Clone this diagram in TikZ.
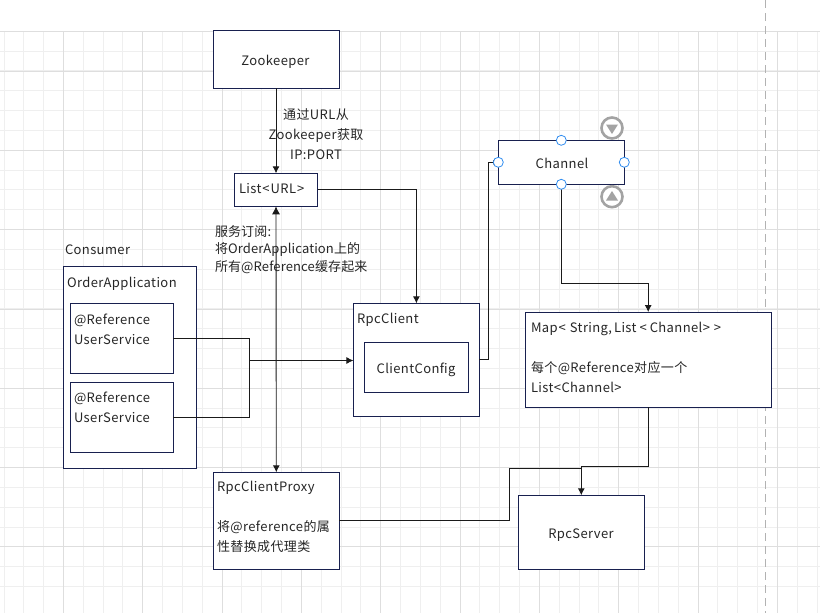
\documentclass[tikz,border=0pt]{standalone}
\usepackage{fontspec}
\setmainfont{Noto Sans CJK SC}[LetterSpace=3]
\usetikzlibrary{arrows.meta}
\definecolor{navy}{HTML}{18204F}
\definecolor{wire}{HTML}{1A1A1A}
\definecolor{ink}{HTML}{262626}
\definecolor{gridminor}{HTML}{EFEFEF}
\definecolor{gridmajor}{HTML}{DEDEDE}
\definecolor{handle}{HTML}{2F8CF0}
\definecolor{knob}{HTML}{A3A3A3}
\tikzset{
  box/.style={draw=navy,fill=white,line width=0.9pt,minimum width=#1,inner sep=0pt,outer sep=0pt},
  lbl/.style={inner sep=0pt,outer sep=0pt,text=ink,align=left,font=\fontsize{13}{20}\selectfont},
  tight/.style={lbl,font=\fontsize{13}{17.5}\selectfont\addfontfeature{LetterSpace=1}},
  conn/.style={draw=wire,line width=0.9pt,-{Latex[length=7pt,width=7pt]}},
  plain/.style={draw=wire,line width=0.9pt},
  grip/.style={circle,draw=handle,fill=white,line width=0.8pt,minimum size=10pt,inner sep=0pt},
  knobc/.style={circle,draw=knob,fill=white,line width=2.6pt,minimum size=21pt,inner sep=0pt},
}
\begin{document}
\begin{tikzpicture}[x=1pt,y=-1pt]
\useasboundingbox (0,0) rectangle (820,613);
\fill[white] (0,0) rectangle (820,613);
% grid
\foreach \i in {-3,...,41} {
  \pgfmathsetmacro\gx{63.4+19.83*\i}
  \draw[gridminor,line width=0.8pt] (\gx,31) -- (\gx,613);
}
\foreach \i in {0,...,28} {
  \pgfmathsetmacro\gy{31.2+19.83*\i}
  \draw[gridminor,line width=0.8pt] (0,\gy) -- (820,\gy);
}
\foreach \i in {-1,...,9} {
  \pgfmathsetmacro\gx{63.4+79.33*\i}
  \draw[gridmajor,line width=0.8pt] (\gx,31) -- (\gx,613);
}
\foreach \i in {0,...,6} {
  \pgfmathsetmacro\gy{71+79.3*\i}
  \draw[gridmajor,line width=0.8pt] (0,\gy) -- (820,\gy);
}
\draw[gridmajor,line width=0.8pt] (0,31.2) -- (820,31.2);
\draw[black!30,line width=0.8pt,dash pattern=on 8pt off 5pt] (765,0) -- (765,613);

% boxes
\node[box=126pt,minimum height=58pt] (zk) at (276,59) {};
\node[box=83.5pt,minimum height=33pt] (list) at (276,189.8) {};
\node[box=126pt,minimum height=44pt] (chan) at (561.3,162.3) {};
\node[box=133pt,minimum height=202.3pt] (cons) at (129.8,367.2) {};
\node[box=103pt,minimum height=70pt] (refa) at (121.8,338.3) {};
\node[box=103pt,minimum height=70pt] (refb) at (121.8,417.3) {};
\node[box=126pt,minimum height=112.7pt] (rpcc) at (416.4,359.7) {};
\node[box=104pt,minimum height=50pt] (cfg) at (416,367.3) {};
\node[box=245.7pt,minimum height=95.3pt] (map) at (648.2,359.7) {};
\node[box=126pt,minimum height=97pt] (proxy) at (276.3,520.8) {};
\node[box=126pt,minimum height=74pt] (srv) at (581.3,532.3) {};

% connectors
\draw[conn] (zk.south) -- (list.north);
\draw[plain,{Latex[length=8pt,width=8pt]}-{Latex[length=7pt,width=7pt]}] (list.south) -- (proxy.north);
\draw[conn] (list.east) -| (rpcc.north);
\coordinate (merge) at (249.5,360.5);
\draw[plain] (refa.east) -| (merge);
\draw[plain] (refb.east) -| (merge);
\draw[conn] (merge) -- (merge -| rpcc.west);
\coordinate (up) at (488.8,359.7);
\draw[plain] (rpcc.east) -- (up);
\draw[conn,-{Latex[length=5pt,width=5pt]}] (up) |- (chan.west);
\coordinate (ca) at (561.3,283);
\draw[conn] (chan.south) -- (ca) -| (map.north);
\coordinate (ma) at (648.2,466.3);
\draw[conn] (map.south) -- (ma) -| (srv.north);
\coordinate (pa) at (509.5,520.8);
\coordinate (pb) at (509.5,468.7);
\draw[plain] (proxy.east) -- (pa) -- (pb) -- (pb -| srv.north);

% labels
\node[lbl] (tzk) at (275.5,62) {Zookeeper};
\node[lbl,align=center] (turl) at (316,134) {通过URL从\\Zookeeper获取\\IP:PORT};
\node[lbl,anchor=west] (tlist) at (239,189) {List\kern1pt<\kern1pt URL\kern1pt>};
\node[tight,anchor=north west] (tsub) at (215,225.5) {服务订阅:\\将OrderApplication上的\\所有@Reference缓存起来};
\node[lbl,anchor=west] (tcons) at (65,250) {Consumer};
\node[lbl,anchor=west] (tord) at (67,284) {OrderApplication};
\node[lbl,anchor=north west] (tra) at (74,313.5) {@Reference\\UserService};
\node[lbl,anchor=north west] (trb) at (74,391.5) {@Reference\\UserService};
\node[lbl,anchor=west] (trpc) at (357,320) {RpcClient};
\node[lbl] (tcfg) at (416,370) {ClientConfig};
\node[lbl] (tchan) at (562,163.5) {Channel};
\node[lbl,anchor=north west] (tmap) at (531,322) {Map\kern1pt<\kern4pt String,\kern2pt List\kern3pt<\kern3pt Channel>\kern4pt>\\[20pt]每个@Reference对应一个\\List<Channel>};
\node[lbl,anchor=north west] (tprox) at (217,481.5) {RpcClientProxy\\[20pt]将@reference的属\\性替换成代理类};
\node[lbl] (tsrv) at (581,535) {RpcServer};

% selection handles
\node[grip] (gt) at (561.3,140.3) {};
\node[grip] (gb) at (561.3,184.3) {};
\node[grip] (gl) at (498.3,162.3) {};
\node[grip] (gr) at (624.3,162.3) {};
\node[knobc] (kd) at (612,128) {};
\node[knobc] (ku) at (612,196.7) {};
\fill[knob] (606,124.5) -- (618,124.5) -- (612,134) -- cycle;
\fill[knob] (606,200.5) -- (618,200.5) -- (612,191) -- cycle;
\end{tikzpicture}
\end{document}
